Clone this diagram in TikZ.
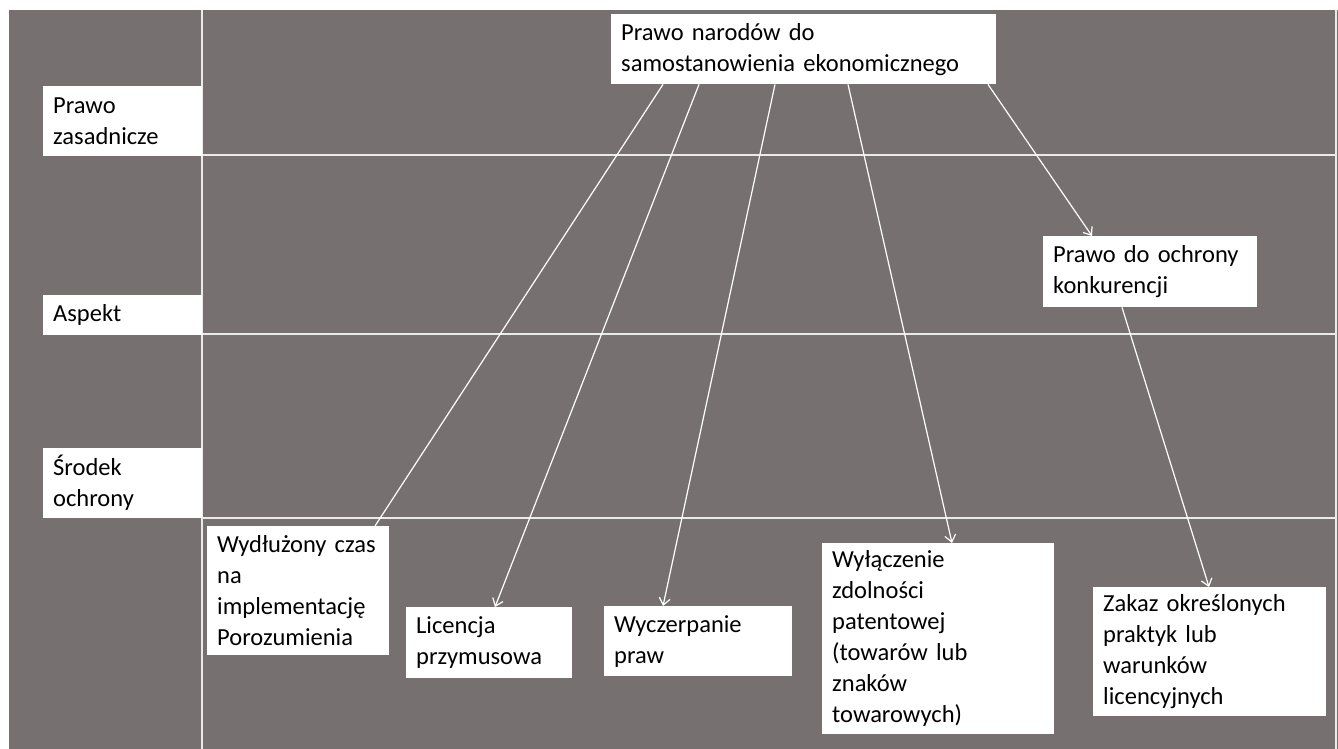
\documentclass[tikz,border=0pt]{standalone}
\usepackage{fontspec}
\setmainfont{Carlito}
\usetikzlibrary{arrows.meta,positioning}
\definecolor{slate}{RGB}{118,113,112}

\begin{document}
\begin{tikzpicture}[x=1pt, y=-1pt,
    box/.style={fill=white, rectangle, anchor=north west, align=left, inner xsep=10pt, inner ysep=0pt, font=\fontsize{24.5}{31}\selectfont},
    rule/.style={draw=white!85!slate, line width=1.5pt},
    link/.style={draw=white, line width=1.2pt},
    >={Straight Barb[length=7pt,width=11pt]}]
    \useasboundingbox (0,0) rectangle (1338,749);
    \fill[slate] (9,10) rectangle (1338,749);

    % grid
    \draw[rule] (202,10) -- (202,749);
    \draw[rule] (202,155) -- (1335,155);
    \draw[rule] (202,334) -- (1335,334);
    \draw[rule] (202,518) -- (1335,518);
    \draw[rule] (1336,10) -- (1336,749);

    % row labels
    \node (zas) [box, text width=139pt, minimum height=70pt] at (43,86) {Prawo\\zasadnicze};
    \node (asp) [box, text width=139pt, minimum height=40pt] at (43,295) {Aspekt};
    \node (srod) [box, text width=139pt, minimum height=70pt] at (43,448) {Środek\\ochrony};

    \node (top) [box, text width=365pt, minimum height=70pt] at (611,14) {Prawo narodów do\\samostanowienia ekonomicznego};
    \node (kon) [box, text width=194pt, minimum height=71pt] at (1043,236) {Prawo do ochrony\\konkurencji};

    \node (wyd) [box, text width=162pt, minimum height=129pt] at (207,526) {Wydłużony czas\\na\\implementację\\Porozumienia};
    \node (lic) [box, text width=146pt, minimum height=71pt] at (406,607) {Licencja\\przymusowa};
    \node (wyc) [box, text width=168pt, minimum height=70pt] at (604,606) {Wyczerpanie\\praw};
    \node (wyl) [box, text width=212pt, minimum height=191pt] at (822,543) {Wyłączenie\\zdolności\\patentowej\\(towarów lub\\znaków\\towarowych)};
    \node (zak) [box, text width=213pt, minimum height=129pt] at (1093,587) {Zakaz określonych\\praktyk lub\\warunków\\licencyjnych};

    \draw [link] ([xshift=52pt]top.south west) -- ([xshift=168pt]wyd.north west);
    \draw [link, ->] ([xshift=88pt]top.south west) -- ([xshift=89pt]lic.north west);
    \draw [link, ->] ([xshift=164pt]top.south west) -- ([xshift=59pt]wyc.north west);
    \draw [link, ->] ([xshift=237pt]top.south west) -- ([xshift=130pt]wyl.north west);
    \draw [link, ->] ([xshift=377pt]top.south west) -- ([xshift=49pt]kon.north west);
    \draw [link, ->] ([xshift=79pt]kon.south west) -- ([xshift=116pt]zak.north west);
\end{tikzpicture}
\end{document}
